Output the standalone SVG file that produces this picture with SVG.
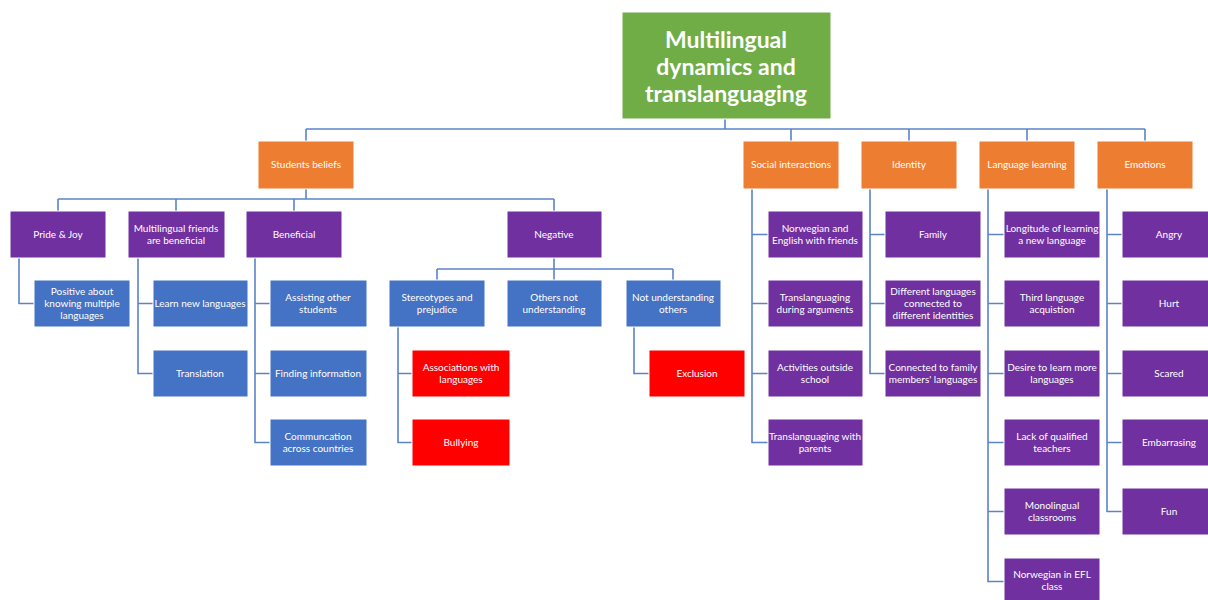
<svg xmlns="http://www.w3.org/2000/svg" width="1208" height="600" viewBox="0 0 1208 600">
<style>
.g{fill:#70AD47;stroke:#ffffff;stroke-width:1}
.o{fill:#ED7D31;stroke:#ffffff;stroke-width:1}
.p{fill:#7030A0;stroke:#ffffff;stroke-width:1}
.b{fill:#4472C4;stroke:#ffffff;stroke-width:1}
.r{fill:#FF0000;stroke:#ffffff;stroke-width:1}
text{font-family:Lato,"Liberation Sans",sans-serif;fill:#ffffff;text-anchor:middle;font-size:10px}
.big{font-size:23px;font-weight:bold}
.c path{fill:none;stroke:#5B84C8;stroke-width:1.6}
</style>
<rect width="1208" height="600" fill="#ffffff"/>
<g class="c" id="connectors">
<path d="M725 119V129M306 129H1145M306 129V141M791 129V141M909 129V141M1027 129V141M1145 129V141"/>
<path d="M306 189V199M58 199H554M58 199V211M176 199V211M294 199V211M554 199V211"/>
<path d="M554 258V269M437 269H673M437 269V280M554 269V280M673 269V280"/>
<path d="M19 258V303.5H34"/>
<path d="M138 258V373.5H153M138 303.5H153"/>
<path d="M255 258V442.5H270M255 303.5H270M255 373.5H270"/>
<path d="M398 327V442.5H412M398 373.5H412"/>
<path d="M634 327V373.5H649"/>
<path d="M752 189V442.5H768M752 234.5H768M752 303.5H768M752 373.5H768"/>
<path d="M870 189V373.5H885M870 234.5H885M870 303.5H885"/>
<path d="M988 189V581.5H1004M988 234.5H1004M988 303.5H1004M988 373.5H1004M988 442.5H1004M988 511.5H1004"/>
<path d="M1107 189V511.5H1122M1107 234.5H1122M1107 303.5H1122M1107 373.5H1122M1107 442.5H1122"/>
</g>
<g id="root"><rect class="g" x="622" y="12" width="209" height="107"/><text class="big" x="726" y="48">Multilingual</text><text class="big" x="726" y="75">dynamics and</text><text class="big" x="726" y="102">translanguaging</text></g>
<g id="students-beliefs"><rect class="o" x="258" y="141" width="96" height="48"/><text x="306" y="168">Students beliefs</text></g>
<g id="social-interactions"><rect class="o" x="743" y="141" width="96" height="48"/><text x="791" y="168">Social interactions</text></g>
<g id="identity"><rect class="o" x="861" y="141" width="96" height="48"/><text x="909" y="168">Identity</text></g>
<g id="language-learning"><rect class="o" x="979" y="141" width="96" height="48"/><text x="1027" y="168">Language learning</text></g>
<g id="emotions"><rect class="o" x="1097" y="141" width="96" height="48"/><text x="1145" y="168">Emotions</text></g>
<g id="pride-joy"><rect class="p" x="10" y="211" width="96" height="47"/><text x="58" y="238">Pride &amp; Joy</text></g>
<g id="multilingual-friends"><rect class="p" x="128" y="211" width="97" height="47"/><text x="176" y="232">Multilingual friends</text><text x="176" y="244">are beneficial</text></g>
<g id="beneficial"><rect class="p" x="246" y="211" width="96" height="47"/><text x="294" y="238">Beneficial</text></g>
<g id="negative"><rect class="p" x="507" y="211" width="95" height="47"/><text x="554" y="238">Negative</text></g>
<g id="positive-about"><rect class="b" x="34" y="280" width="96" height="47"/><text x="82" y="295">Positive about</text><text x="82" y="307">knowing multiple</text><text x="82" y="319">languages</text></g>
<g id="learn-new-languages"><rect class="b" x="153" y="280" width="95" height="47"/><text x="200" y="307">Learn new languages</text></g>
<g id="translation"><rect class="b" x="153" y="350" width="95" height="47"/><text x="200" y="377">Translation</text></g>
<g id="assisting"><rect class="b" x="270" y="280" width="97" height="47"/><text x="318" y="301">Assisting other</text><text x="318" y="313">students</text></g>
<g id="finding-information"><rect class="b" x="270" y="350" width="97" height="47"/><text x="318" y="377">Finding information</text></g>
<g id="communcation"><rect class="b" x="270" y="419" width="97" height="47"/><text x="318" y="440">Communcation</text><text x="318" y="452">across countries</text></g>
<g id="stereotypes"><rect class="b" x="389" y="280" width="96" height="47"/><text x="437" y="301">Stereotypes and</text><text x="437" y="313">prejudice</text></g>
<g id="others-not-understanding"><rect class="b" x="507" y="280" width="95" height="47"/><text x="554" y="301">Others not</text><text x="554" y="313">understanding</text></g>
<g id="not-understanding-others"><rect class="b" x="626" y="280" width="95" height="47"/><text x="673" y="301">Not understanding</text><text x="673" y="313">others</text></g>
<g id="associations"><rect class="r" x="412" y="350" width="98" height="47"/><text x="461" y="371">Associations with</text><text x="461" y="383">languages</text></g>
<g id="bullying"><rect class="r" x="412" y="419" width="98" height="47"/><text x="461" y="446">Bullying</text></g>
<g id="exclusion"><rect class="r" x="649" y="350" width="96" height="47"/><text x="697" y="377">Exclusion</text></g>
<g id="norwegian-english-friends"><rect class="p" x="768" y="211" width="95" height="47"/><text x="815" y="232">Norwegian and</text><text x="815" y="244">English with friends</text></g>
<g id="translanguaging-arguments"><rect class="p" x="768" y="280" width="95" height="47"/><text x="815" y="301">Translanguaging</text><text x="815" y="313">during arguments</text></g>
<g id="activities-outside"><rect class="p" x="768" y="350" width="95" height="47"/><text x="815" y="371">Activities outside</text><text x="815" y="383">school</text></g>
<g id="translanguaging-parents"><rect class="p" x="768" y="419" width="95" height="47"/><text x="815" y="440">Translanguaging with</text><text x="815" y="452">parents</text></g>
<g id="family"><rect class="p" x="885" y="211" width="96" height="47"/><text x="933" y="238">Family</text></g>
<g id="different-languages"><rect class="p" x="885" y="280" width="96" height="47"/><text x="933" y="295">Different languages</text><text x="933" y="307">connected to</text><text x="933" y="319">different identities</text></g>
<g id="connected-family"><rect class="p" x="885" y="350" width="96" height="47"/><text x="933" y="371">Connected to family</text><text x="933" y="383">members' languages</text></g>
<g id="longitude"><rect class="p" x="1004" y="211" width="96" height="47"/><text x="1052" y="232">Longitude of learning</text><text x="1052" y="244">a new language</text></g>
<g id="third-language"><rect class="p" x="1004" y="280" width="96" height="47"/><text x="1052" y="301">Third language</text><text x="1052" y="313">acquistion</text></g>
<g id="desire"><rect class="p" x="1004" y="350" width="96" height="47"/><text x="1052" y="371">Desire to learn more</text><text x="1052" y="383">languages</text></g>
<g id="lack-teachers"><rect class="p" x="1004" y="419" width="96" height="47"/><text x="1052" y="440">Lack of qualified</text><text x="1052" y="452">teachers</text></g>
<g id="monolingual"><rect class="p" x="1004" y="488" width="96" height="47"/><text x="1052" y="509">Monolingual</text><text x="1052" y="521">classrooms</text></g>
<g id="norwegian-efl"><rect class="p" x="1004" y="558" width="96" height="47"/><text x="1052" y="578">Norwegian in EFL</text><text x="1052" y="590">class</text></g>
<g id="angry"><rect class="p" x="1122" y="211" width="96" height="47"/><text x="1169" y="238">Angry</text></g>
<g id="hurt"><rect class="p" x="1122" y="280" width="96" height="47"/><text x="1169" y="307">Hurt</text></g>
<g id="scared"><rect class="p" x="1122" y="350" width="96" height="47"/><text x="1169" y="377">Scared</text></g>
<g id="embarrasing"><rect class="p" x="1122" y="419" width="96" height="47"/><text x="1169" y="446">Embarrasing</text></g>
<g id="fun"><rect class="p" x="1122" y="488" width="96" height="47"/><text x="1169" y="515">Fun</text></g>
</svg>
